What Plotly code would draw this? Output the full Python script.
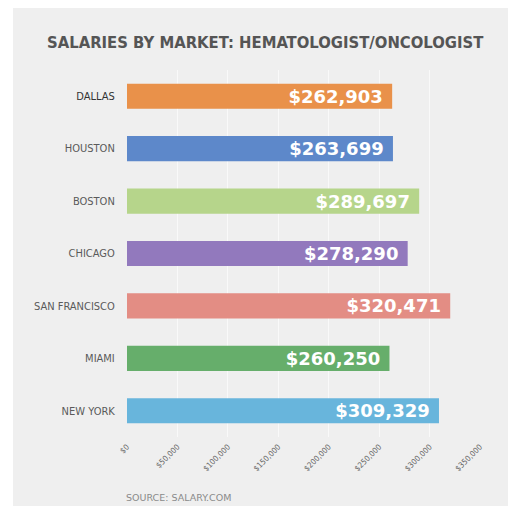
import plotly.graph_objects as go

markets = ["DALLAS", "HOUSTON", "BOSTON", "CHICAGO", "SAN FRANCISCO", "MIAMI", "NEW YORK"]
salaries = [262903, 263699, 289697, 278290, 320471, 260250, 309329]
bar_colors = ["#E9914A", "#5D88CA", "#B6D58B", "#9279BD", "#E38D84", "#66AE6B", "#68B5DC"]
tick_vals = [0, 50000, 100000, 150000, 200000, 250000, 300000, 350000]
tick_text = ["$0", "$50,000", "$100,000", "$150,000", "$200,000", "$250,000", "$300,000", "$350,000"]

title_text = "SALARIES BY MARKET: HEMATOLOGIST/ONCOLOGIST"
source_text = "SOURCE: SALARY.COM"

COND = "DejaVu Sans Condensed, Liberation Sans Narrow, DejaVu Sans, sans-serif"

fig = go.Figure()
fig.add_trace(go.Bar(
    x=salaries,
    y=markets,
    orientation="h",
    marker=dict(color=bar_colors, line=dict(width=0)),
    text=[f"${v:,}\u00a0" for v in salaries],
    textposition="inside",
    insidetextanchor="end",
    constraintext="none",
    textfont=dict(family="DejaVu Sans", size=18, color="white", weight="bold"),
    hoverinfo="skip",
))

L, R, T, B = 127, 28, 70, 69
W, H = 508, 506
pw, ph = W - L - R, H - T - B

def px_x(px):
    return (px - L) / pw

def px_y(py):
    return 1 - (py - T) / ph

y_ticktext = [f"<span style='color:#333333'>{m}</span>" if i == 0 else m
              for i, m in enumerate(markets)]

fig.update_layout(
    width=W, height=H,
    margin=dict(l=L, r=R, t=T, b=B, pad=0),
    paper_bgcolor="white",
    plot_bgcolor="#efefef",
    bargap=0.52,
    showlegend=False,
    shapes=[dict(type="rect", xref="paper", yref="paper",
                 x0=px_x(13), x1=px_x(520), y0=px_y(520), y1=px_y(8),
                 fillcolor="#efefef", line=dict(width=0), layer="below")],
    annotations=[
        dict(text=title_text, xref="paper", yref="paper",
             x=px_x(265), y=px_y(43), xanchor="center", yanchor="middle",
             showarrow=False,
             font=dict(family=COND, size=16.5, color="#555555", weight="bold")),
        dict(text=source_text, xref="paper", yref="paper",
             x=px_x(124), y=px_y(498), xanchor="left", yanchor="middle",
             showarrow=False,
             font=dict(family="DejaVu Sans", size=9.5, color="#8a8a8a")),
    ],
)

fig.update_xaxes(
    range=[0, 350000],
    tickvals=tick_vals,
    ticktext=tick_text,
    tickangle=-45,
    tickfont=dict(family=COND, size=8, color="#666666"),
    showgrid=True, gridcolor="#f9f9f9", gridwidth=1,
    zeroline=False, showline=False,
    ticks="outside", ticklen=1, tickcolor="rgba(0,0,0,0)",
    fixedrange=True,
)
fig.update_yaxes(
    autorange="reversed",
    tickvals=markets,
    ticktext=y_ticktext,
    tickfont=dict(family=COND, size=11, color="#5a5a5a"),
    showgrid=False, zeroline=False, showline=False,
    ticks="outside", ticklen=9, tickcolor="rgba(0,0,0,0)",
    fixedrange=True,
)

fig.write_html("out.html", config={"displayModeBar": False},
               post_script="document.body.style.margin='0px';document.body.style.overflow='hidden';")
